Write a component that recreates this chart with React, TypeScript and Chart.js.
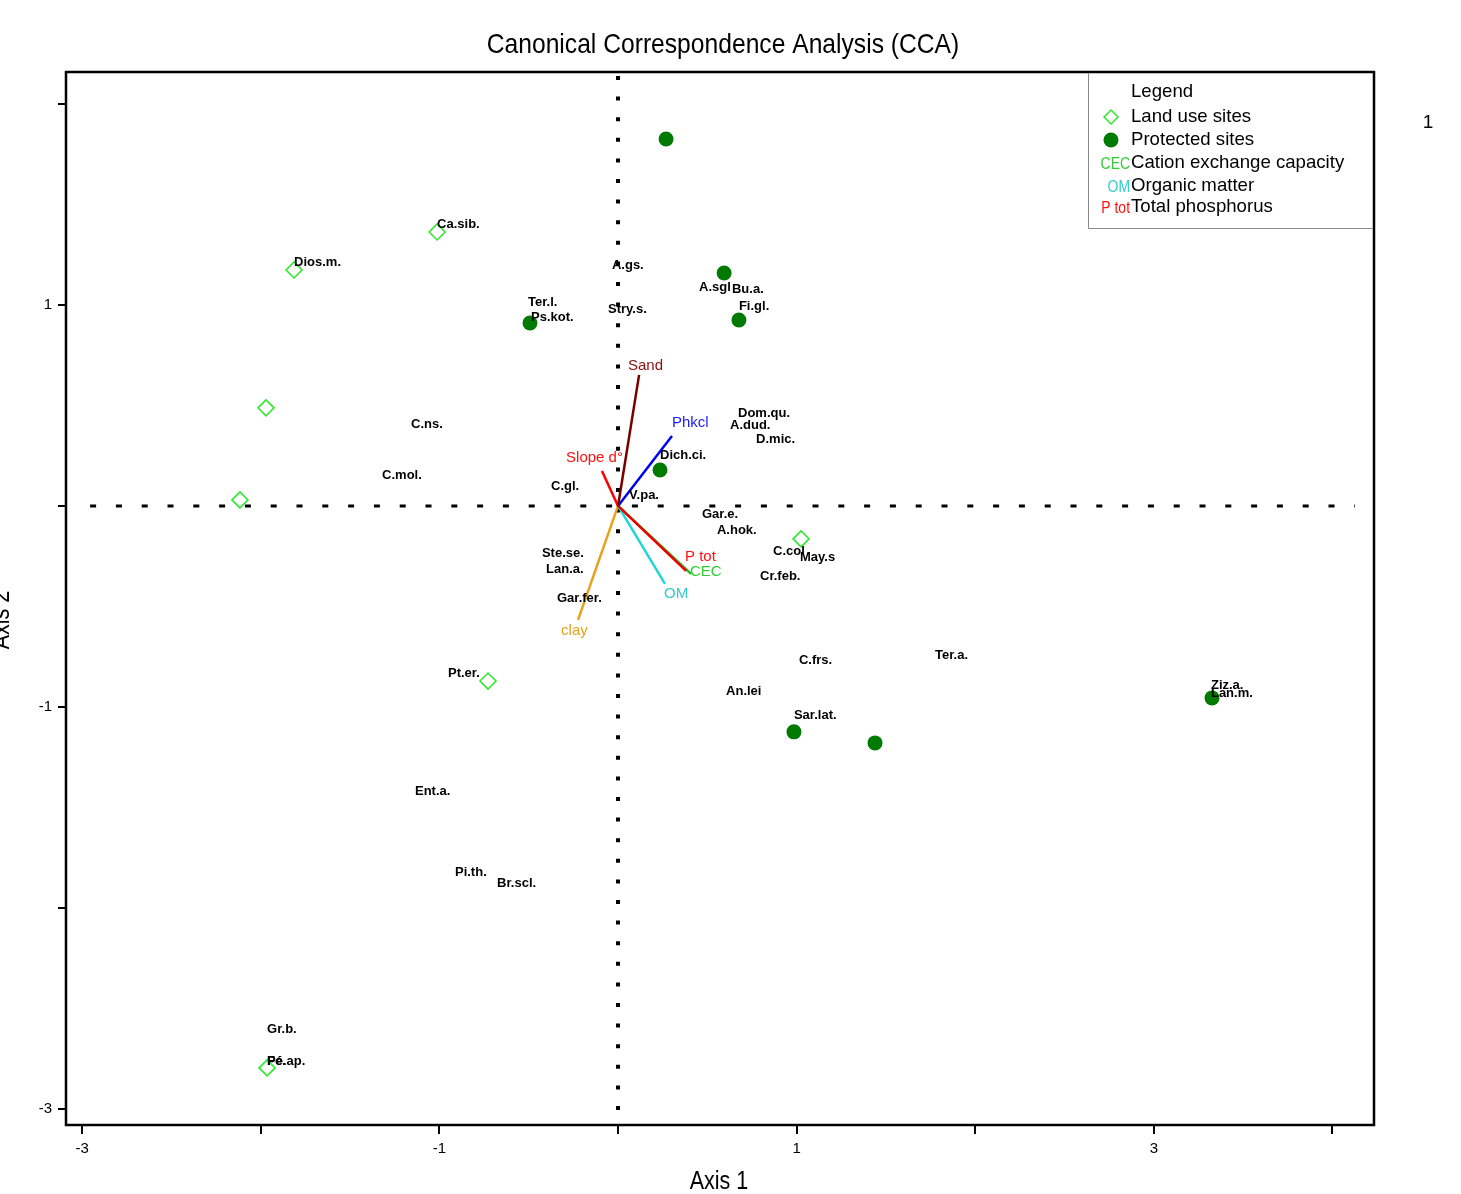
import React, { useEffect, useRef } from 'react';
import { Chart, registerables } from 'chart.js';

Chart.register(...registerables);

const chartTitle = 'Canonical Correspondence Analysis (CCA)';
const xAxisTitle = 'Axis 1';
const yAxisTitle = 'Axis 2';
const cornerNote = '1';

const xRange = [-3.091, 4.233];
const yRange = [-3.08, 2.159];

const landUseX = [-1.013, -1.814, -1.971, -2.117, -0.728, 1.025, -1.965];
const landUseY = [1.363, 1.174, 0.488, 0.03, -0.871, -0.164, -2.796];

const protectedX = [0.269, 0.594, 0.677, -0.493, 0.235, 0.985, 1.439, 3.326];
const protectedY = [1.826, 1.159, 0.925, 0.91, 0.179, -1.124, -1.179, -0.955];

const speciesNames = [
  'Ca.sib.', 'Dios.m.', 'A.gs.', 'A.sgl', 'Bu.a.', 'Ter.l.', 'Stry.s.', 'Fi.gl.', 'Ps.kot.',
  'Dom.qu.', 'A.dud.', 'C.ns.', 'D.mic.', 'Dich.ci.', 'C.mol.', 'C.gl.', 'V.pa.', 'Gar.e.',
  'A.hok.', 'Ste.se.', 'C.col', 'May.s', 'Lan.a.', 'Cr.feb.', 'Gar.fer.', 'Ter.a.', 'C.frs.',
  'Pt.er.', 'Ziz.a.', 'An.lei', 'Lan.m.', 'Sar.lat.', 'Ent.a.', 'Pi.th.', 'Br.scl.', 'Gr.b.',
  'Pé.ap.', 'Fé.',
];
const speciesX = [
  -1.013, -1.814, -0.034, 0.454, 0.638, -0.504, -0.056, 0.677, -0.487,
  0.672, 0.627, -1.159, 0.773, 0.235, -1.321, -0.375, 0.062, 0.47,
  0.554, -0.426, 0.868, 1.019, -0.403, 0.795, -0.342, 1.775, 1.013,
  -0.952, 3.32, 0.605, 3.32, 0.985, -1.137, -0.913, -0.677, -1.965,
  -1.965, -1.965,
];
const speciesY = [
  1.403, 1.214, 1.199, 1.085, 1.075, 1.015, 0.98, 0.995, 0.94,
  0.458, 0.403, 0.408, 0.333, 0.249, 0.154, 0.095, 0.05, -0.04,
  -0.124, -0.234, -0.224, -0.254, -0.318, -0.353, -0.458, -0.746, -0.771,
  -0.831, -0.891, -0.925, -0.935, -1.04, -1.418, -1.821, -1.876, -2.602,
  -2.766, -2.766,
];

const envNames = ['Sand', 'Phkcl', 'Slope d°', 'P tot', 'CEC', 'OM', 'clay'];
const envX = [0.118, 0.302, -0.09, 0.381, 0.409, 0.263, -0.224];
const envY = [0.652, 0.348, 0.174, -0.323, -0.338, -0.388, -0.567];
const envLabelX = [0.056, 0.302, -0.291, 0.375, 0.403, 0.258, -0.319];
const envLabelY = [0.697, 0.413, 0.239, -0.254, -0.328, -0.438, -0.622];
const envLineColors = ['#7a0000', '#0000ee', '#ff0000', '#ee0000', '#22bb22', '#22d6d6', '#e8a11c'];
const envTextColors = ['#8b1010', '#1a1aee', '#ff1010', '#ff1010', '#33cc33', '#33cccc', '#e8a11c'];

const legendKeys = ['', 'diamond', 'circle', 'CEC', 'OM', 'P tot'];
const legendTexts = ['Legend', 'Land use sites', 'Protected sites', 'Cation exchange capacity', 'Organic matter', 'Total phosphorus'];
const legendKeyColors = ['#000', '#2ee82e', '#007a00', '#33cc33', '#33cccc', '#ff1010'];

const hLineX = [-2.956, 4.127];
const vLineY = [2.139, yRange[0]];

const DIAMOND = '#2ee82e';
const DOT = '#007a00';
const SANS = "'Liberation Sans', Arial, sans-serif";

function condensedText(ctx: any, text: string, x: number, y: number, sx: number) {
  ctx.save();
  ctx.translate(x, y);
  ctx.scale(sx, 1);
  ctx.fillText(text, 0, 0);
  ctx.restore();
}

const overlay = {
  id: 'ccaOverlay',
  afterDatasetsDraw(chart: any) {
    const { ctx, scales } = chart;
    const xs = scales.x;
    const ys = scales.y;
    ctx.save();
    ctx.fillStyle = '#000';
    ctx.font = `bold 13px ${SANS}`;
    ctx.textAlign = 'left';
    ctx.textBaseline = 'middle';
    speciesNames.forEach((n, i) => {
      ctx.fillText(n, xs.getPixelForValue(speciesX[i]), ys.getPixelForValue(speciesY[i]));
    });
    ctx.font = `15px ${SANS}`;
    envNames.forEach((n, i) => {
      ctx.fillStyle = envTextColors[i];
      ctx.fillText(n, xs.getPixelForValue(envLabelX[i]), ys.getPixelForValue(envLabelY[i]));
    });
    ctx.restore();
  },
  afterDraw(chart: any) {
    const { ctx, chartArea } = chart;
    const { left, top, right, bottom } = chartArea;
    ctx.save();
    ctx.strokeStyle = '#000';
    ctx.lineWidth = 2.5;
    ctx.strokeRect(left, top, right - left, bottom - top);
    ctx.fillStyle = '#000';
    ctx.textAlign = 'center';
    ctx.textBaseline = 'middle';
    ctx.font = `28px ${SANS}`;
    condensedText(ctx, chartTitle, 723, 45, 0.88);
    ctx.font = `25px ${SANS}`;
    condensedText(ctx, xAxisTitle, 719, 1182, 0.86);
    ctx.save();
    ctx.translate(9, 620);
    ctx.rotate(-Math.PI / 2);
    ctx.textBaseline = 'alphabetic';
    ctx.scale(0.86, 1);
    ctx.fillText(yAxisTitle, 0, 0);
    ctx.restore();
    ctx.font = `19px ${SANS}`;
    ctx.fillText(cornerNote, 1428, 123);
    const lx = 1088;
    const lb = 228;
    ctx.strokeStyle = '#8a8a8a';
    ctx.lineWidth = 1;
    ctx.beginPath();
    ctx.moveTo(lx + 0.5, top + 1);
    ctx.lineTo(lx + 0.5, lb + 0.5);
    ctx.lineTo(right - 1, lb + 0.5);
    ctx.stroke();
    const rowY = [92, 117, 140, 163, 186, 207];
    legendTexts.forEach((t, i) => {
      const y = rowY[i];
      ctx.fillStyle = '#000';
      ctx.textAlign = 'left';
      ctx.textBaseline = 'middle';
      ctx.font = `19px ${SANS}`;
      condensedText(ctx, t, 1131, y, 0.98);
      const k = legendKeys[i];
      if (k === 'diamond') {
        ctx.strokeStyle = legendKeyColors[i];
        ctx.lineWidth = 1.5;
        ctx.beginPath();
        ctx.moveTo(1111, y - 7);
        ctx.lineTo(1118, y);
        ctx.lineTo(1111, y + 7);
        ctx.lineTo(1104, y);
        ctx.closePath();
        ctx.stroke();
      } else if (k === 'circle') {
        ctx.fillStyle = legendKeyColors[i];
        ctx.beginPath();
        ctx.arc(1111, y, 7.5, 0, Math.PI * 2);
        ctx.fill();
      } else if (k) {
        ctx.fillStyle = legendKeyColors[i];
        ctx.font = `17px ${SANS}`;
        ctx.textAlign = 'right';
        condensedText(ctx, k, 1130, y + 1, 0.82);
      }
    });
    ctx.restore();
  },
};

export default function App() {
  const ref = useRef<HTMLCanvasElement | null>(null);
  useEffect(() => {
    if (!ref.current) return;
    const envSets = envNames.map((n, i) => ({
      type: 'line' as const,
      label: n,
      data: [{ x: 0, y: 0 }, { x: envX[i], y: envY[i] }],
      borderColor: envLineColors[i],
      borderWidth: 2.5,
      pointRadius: 0,
      fill: false,
      order: 3,
    }));
    const chart = new Chart(ref.current, {
      type: 'scatter',
      data: {
        datasets: [
          {
            type: 'line',
            label: 'vline',
            data: [{ x: 0, y: vLineY[0] }, { x: 0, y: vLineY[1] }],
            borderColor: '#000',
            borderWidth: 4,
            borderDash: [4, 16.6],
            borderCapStyle: 'butt',
            pointRadius: 0,
            order: 5,
          } as any,
          {
            type: 'line',
            label: 'hline',
            data: [{ x: hLineX[0], y: 0 }, { x: hLineX[1], y: 0 }],
            borderColor: '#000',
            borderWidth: 3,
            borderDash: [6, 19.8],
            borderCapStyle: 'butt',
            pointRadius: 0,
            order: 5,
          } as any,
          ...envSets,
          {
            label: 'Land use sites',
            data: landUseX.map((x, i) => ({ x, y: landUseY[i] })),
            pointStyle: 'rectRot',
            pointRadius: 8,
            pointBorderWidth: 1.6,
            borderColor: DIAMOND,
            backgroundColor: 'rgba(255,255,255,0)',
            order: 1,
          } as any,
          {
            label: 'Protected sites',
            data: protectedX.map((x, i) => ({ x, y: protectedY[i] })),
            pointStyle: 'circle',
            pointRadius: 7.5,
            pointBorderWidth: 0,
            borderColor: DOT,
            backgroundColor: DOT,
            order: 1,
          } as any,
        ],
      },
      options: {
        animation: false,
        responsive: false,
        devicePixelRatio: 1,
        layout: { padding: { top: 72, right: 87, left: 0, bottom: 0 } },
        plugins: { legend: { display: false }, tooltip: { enabled: false }, title: { display: false } },
        scales: {
          x: {
            type: 'linear',
            min: xRange[0],
            max: xRange[1],
            border: { display: false },
            grid: { drawOnChartArea: false, drawTicks: true, tickLength: 9, color: '#000', lineWidth: 2 },
            ticks: {
              stepSize: 1,
              includeBounds: false,
              maxRotation: 0,
              autoSkip: false,
              padding: 6,
              color: '#000',
              font: { family: SANS, size: 15 },
              callback: (v: any) => (Math.abs(Math.round(Number(v))) % 2 === 1 ? String(v) : ''),
            },
            afterFit: (s: any) => { s.height = 69; },
          },
          y: {
            type: 'linear',
            min: yRange[0],
            max: yRange[1],
            border: { display: false },
            grid: { drawOnChartArea: false, drawTicks: true, tickLength: 8, color: '#000', lineWidth: 2 },
            ticks: {
              stepSize: 1,
              includeBounds: false,
              autoSkip: false,
              padding: 6,
              color: '#000',
              font: { family: SANS, size: 15 },
              callback: (v: any) => (Math.abs(Math.round(Number(v))) % 2 === 1 ? String(v) : ''),
            },
            afterFit: (s: any) => { s.width = 66; },
          },
        },
      } as any,
      plugins: [overlay],
    });
    return () => chart.destroy();
  }, []);
  return (
    <div style={{ position: 'absolute', left: 0, top: 0, width: 1461, height: 1194, background: '#fff' }}>
      <canvas ref={ref} width={1461} height={1194} style={{ display: 'block', width: 1461, height: 1194 }} />
    </div>
  );
}
